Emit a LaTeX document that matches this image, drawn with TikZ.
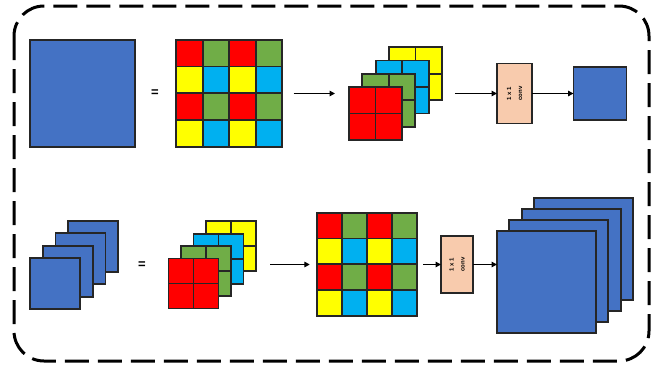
\documentclass[tikz,border=0pt]{standalone}
\usepackage{fontspec}
\setsansfont{Liberation Sans}
\usetikzlibrary{arrows.meta,positioning}

\definecolor{sqblue}{HTML}{4472C4}
\definecolor{cred}{HTML}{FF0000}
\definecolor{cgreen}{HTML}{70AD47}
\definecolor{cyellow}{HTML}{FFFF00}
\definecolor{ccyan}{HTML}{00B0F0}
\definecolor{convpeach}{HTML}{F8CBAD}

\tikzset{
  box/.style={draw=black!85, line width=1.8pt, inner sep=0pt, outer sep=0pt},
  cell/.style={box, minimum width=#1, minimum height=#1},
  arr/.style={-{Triangle[length=5.5pt,width=5.5pt]}, line width=1.6pt},
  convtext/.style={rotate=90, align=center, inner sep=0pt,
    font=\sffamily\bfseries\fontsize{6}{11}\selectfont},
  eq/.style={font=\sffamily\bfseries\fontsize{13}{13}\selectfont}
}

\begin{document}
\begin{tikzpicture}[x=1pt, y=-1pt]
    \useasboundingbox (0,0) rectangle (669,364);

    % dashed frame
    \draw[line width=3pt, dash pattern=on 24pt off 9pt, rounded corners=30pt]
        (14,6) rectangle (649,361);

    % ---- top row ----
    % input map
    \node[box, fill=sqblue, minimum width=105, minimum height=107] (inA) at (82.5,93.5) {};
    \node[eq] (eqA) at (155,93) {=};

    % 4x4 sub-pixel grid
    \node[minimum width=106, minimum height=107, inner sep=0pt] (gridA) at (229.5,93.5) {};
    \foreach \r/\ca/\cb in {0/cred/cgreen,1/cyellow/ccyan,2/cred/cgreen,3/cyellow/ccyan}
      \foreach \c/\col in {0/\ca,1/\cb,2/\ca,3/\cb}
        \node[box, fill=\col, minimum width=26.5, minimum height=26.75]
            (gA\r\c) at ([shift={(13.25+26.5*\c,13.4+26.75*\r)}]gridA.north west) {};

    % stacked 2x2 maps
    \foreach \k/\col/\nm in {3/cyellow/y,2/ccyan/c,1/cgreen/g,0/cred/r} {
      \node[cell=53, fill=\col] (sA\nm) at (375.5+13.3*\k,113.5-13.3*\k) {};
      \draw[line width=1.8pt, draw=black!85]
          (sA\nm.north) -- (sA\nm.south) (sA\nm.west) -- (sA\nm.east);
    }

    % 1x1 conv and output
    \node[box, fill=convpeach, minimum width=35, minimum height=60] (convA) at (514.5,93.5) {};
    \node[convtext] (convAtxt) at (convA) {1 x 1\\conv};
    \node[cell=53, fill=sqblue] (outA) at (600,93.5) {};

    \draw[arr, shorten <=11pt, shorten >=14pt] (gridA.east) -- (gridA.east -| sAr.west);
    \draw[arr, shorten <=13pt] (convA.west -| sAy.east) -- (convA.west);
    \draw[arr] (convA.east) -- (outA.west);

    % ---- bottom row ----
    % stacked input maps
    \foreach \k in {3,2,1,0}
      \node[box, fill=sqblue, minimum width=50, minimum height=51] (inB\k) at (55+12.7*\k,283.5-12.4*\k) {};
    \node[eq] (eqB) at (142,265) {=};

    % stacked 2x2 maps
    \foreach \k/\col/\nm in {3/cyellow/y,2/ccyan/c,1/cgreen/g,0/cred/r} {
      \node[cell=50, fill=\col] (sB\nm) at (193.5+12.5*\k,283.5-12.4*\k) {};
      \draw[line width=1.8pt, draw=black!85]
          (sB\nm.north) -- (sB\nm.south) (sB\nm.west) -- (sB\nm.east);
    }

    % 4x4 grid
    \node[minimum width=100, minimum height=103, inner sep=0pt] (gridB) at (367,264.5) {};
    \foreach \r/\ca/\cb in {0/cred/cgreen,1/cyellow/ccyan,2/cred/cgreen,3/cyellow/ccyan}
      \foreach \c/\col in {0/\ca,1/\cb,2/\ca,3/\cb}
        \node[box, fill=\col, minimum width=25, minimum height=25.75]
            (gB\r\c) at ([shift={(12.5+25*\c,12.9+25.75*\r)}]gridB.north west) {};

    % 1x1 conv and output stack
    \node[box, fill=convpeach, minimum width=32, minimum height=57] (convB) at (457,264.5) {};
    \node[convtext] (convBtxt) at (convB) {1 x 1\\conv};
    \foreach \k in {3,2,1,0}
      \node[box, fill=sqblue, minimum width=99, minimum height=102] (outB\k) at (546.5+12.3*\k,282-11*\k) {};

    \draw[arr, shorten <=14pt, shorten >=7pt] (gridB.west -| sBy.east) -- (gridB.west);
    \draw[arr, shorten <=6pt] (gridB.east) -- (convB.west);
    \draw[arr] (convB.east) -- (convB.east -| outB0.west);

\end{tikzpicture}
\end{document}
